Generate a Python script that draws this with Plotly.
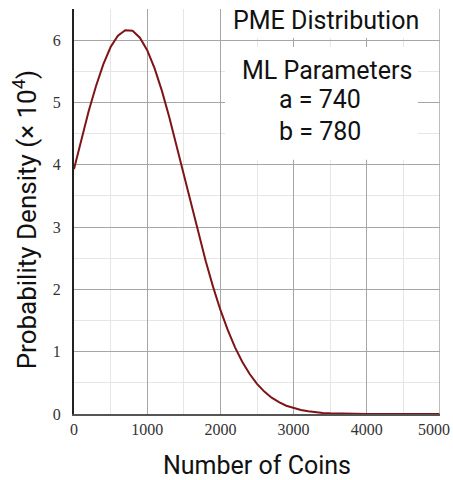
import plotly.graph_objects as go

# Values (probability density x 10^4)
coins = [0, 100, 200, 300, 400, 500, 600, 700, 800, 900, 1000, 1100, 1200, 1300,
         1400, 1500, 1600, 1700, 1800, 1900, 2000, 2100, 2200, 2300, 2400, 2500,
         2600, 2700, 2800, 2900, 3000, 3100, 3200, 3300, 3400, 3500, 3600, 3700,
         3800, 3900, 4000, 4500, 5000]
density = [3.93, 4.41, 4.86, 5.26, 5.61, 5.89, 6.07, 6.16, 6.15, 6.04, 5.84, 5.55,
           5.19, 4.77, 4.31, 3.84, 3.36, 2.89, 2.45, 2.04, 1.67, 1.35, 1.07, 0.835,
           0.641, 0.484, 0.359, 0.262, 0.189, 0.133, 0.093, 0.063, 0.043, 0.028,
           0.018, 0.012, 0.0074, 0.0045, 0.0027, 0.0015, 0.0008, 0.0, 0.0]

x_ticks = [0, 1000, 2000, 3000, 4000, 5000]
x_tick_text = ["0", "1000", "2000", "3000", "4000", " "]
last_x_label = "5000"
y_ticks = [0, 1, 2, 3, 4, 5, 6]

title_text = "PME Distribution"
param_lines = ["ML Parameters", "a = 740", "b = 780"]
x_title = "Number of Coins"
y_title = "Probability Density (× 10<sup>4</sup>)"

sans = "Roboto, Open Sans, sans-serif"
serif = "Liberation Serif, DejaVu Serif, serif"

fig = go.Figure()
fig.add_trace(go.Scatter(
    x=coins, y=density, mode="lines",
    line=dict(color="#7f1416", width=2),
    hoverinfo="skip", showlegend=False,
))

fig.update_layout(
    width=453, height=480,
    margin=dict(l=74, r=13, t=9, b=66),
    paper_bgcolor="white", plot_bgcolor="white",
    xaxis=dict(
        range=[0, 5000], tickvals=x_ticks, ticktext=x_tick_text, ticks="",
        showgrid=True, gridcolor="#a6a6a6", gridwidth=1,
        minor=dict(dtick=500, showgrid=True, gridcolor="#e6e6e6", gridwidth=1),
        showline=True, linecolor="#555555", linewidth=2,
        zeroline=False, automargin=False,
        tickfont=dict(family=serif, size=16, color="#333333"),
        title=dict(text=x_title, font=dict(family=sans, size=25, color="#111111"), standoff=20),
    ),
    yaxis=dict(
        range=[0, 6.5], tickvals=y_ticks, ticks="",
        showgrid=True, gridcolor="#a6a6a6", gridwidth=1,
        minor=dict(dtick=0.5, showgrid=True, gridcolor="#e6e6e6", gridwidth=1),
        showline=True, linecolor="#222222", linewidth=2,
        zeroline=False, automargin=False,
        tickfont=dict(family=serif, size=16, color="#333333"),
        ticklabelstandoff=8,
    ),
)

# white backgrounds behind the text (above grid, below the curve)
fig.add_shape(type="rect", xref="x", yref="y", x0=2063, x1=4795, y0=6.035, y1=6.5,
              fillcolor="white", line=dict(width=0), layer="between")
fig.add_shape(type="rect", xref="x", yref="y", x0=2063, x1=4699, y0=4.08, y1=5.89,
              fillcolor="white", line=dict(width=0), layer="between")

fig.add_annotation(x=3443, y=6.32, xref="x", yref="y", text=title_text, showarrow=False,
                   font=dict(family=sans, size=25, color="#111111"))
for txt, xv, yv in zip(param_lines, [3455, 3360, 3360], [5.52, 5.04, 4.53]):
    fig.add_annotation(x=xv, y=yv, xref="x", yref="y", text=txt, showarrow=False,
                       font=dict(family=sans, size=25, color="#111111"))

# y-axis title, placed as the reference does (slightly below centre)
fig.add_annotation(x=-0.133, y=0.479, xref="paper", yref="paper", text=y_title,
                   textangle=-90, showarrow=False, xanchor="center", yanchor="middle",
                   font=dict(family=sans, size=26, color="#111111"))

# last x tick label, kept inside the page like the reference
fig.add_annotation(x=5000, y=0, xref="x", yref="paper", text=last_x_label, showarrow=False,
                   xanchor="right", yanchor="top", xshift=12, yshift=-5,
                   font=dict(family=serif, size=16, color="#333333"))

fig.add_shape(type="line", xref="x", yref="paper", x0=5000, x1=5000, y0=0, y1=1,
              line=dict(color="#a6a6a6", width=1.5), layer="above")

fig.write_html("out.html")
